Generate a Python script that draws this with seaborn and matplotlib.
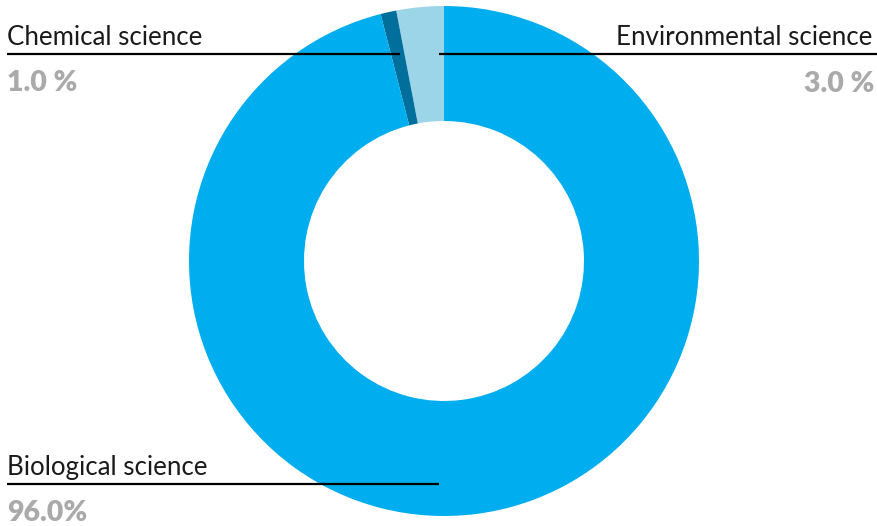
import matplotlib
matplotlib.use("Agg")
import matplotlib.pyplot as plt
import seaborn as sns

# Data
categories = ["Environmental science", "Chemical science", "Biological science"]
values = [3.0, 1.0, 96.0]
pct_labels = ["3.0 %", "1.0 %", "96.0%"]
colors = ["#9dd5e8", "#006f9c", "#00adee"]

sns.set_theme(style="white")
plt.rcParams["font.family"] = ["Lato", "DejaVu Sans"]

W, H = 877, 526
fig = plt.figure(figsize=(W / 100, H / 100), dpi=100)
ax = fig.add_axes([0, 0, 1, 1])

def Y(y):
    return H - y

cx, cy, r_out, r_in = 444, 261, 255, 140
ax.pie(values, colors=colors, startangle=90, counterclock=True,
       center=(cx, Y(cy)), radius=r_out, frame=True,
       wedgeprops=dict(width=r_out - r_in, linewidth=0))
ax.set_xlim(0, W)
ax.set_ylim(0, H)
ax.set_aspect("equal")
ax.axis("off")

label_kw = dict(fontsize=18.6, color="#1a1a1a", fontweight="normal")
pct_kw = dict(fontsize=20.5, color="#aaaaaa", fontweight="heavy")

# Chemical (top-left)
ax.text(7, Y(45), categories[1], ha="left", va="baseline", **label_kw)
ax.plot([7, 400], [Y(54), Y(54)], color="black", lw=1.6, solid_capstyle="butt")
ax.text(7, Y(91), pct_labels[1], ha="left", va="baseline", **pct_kw)

# Environmental (top-right)
ax.text(872, Y(45), categories[0], ha="right", va="baseline", **label_kw)
ax.plot([439, 877], [Y(54), Y(54)], color="black", lw=1.6, solid_capstyle="butt")
ax.text(874, Y(92), pct_labels[0], ha="right", va="baseline", **pct_kw)

# Biological (bottom-left)
ax.text(7, Y(475), categories[2], ha="left", va="baseline", **label_kw)
ax.plot([7, 439], [Y(484), Y(484)], color="black", lw=1.6, solid_capstyle="butt")
ax.text(7, Y(521), pct_labels[2], ha="left", va="baseline", **pct_kw)

fig.savefig("out.png", dpi=100, facecolor="white")
